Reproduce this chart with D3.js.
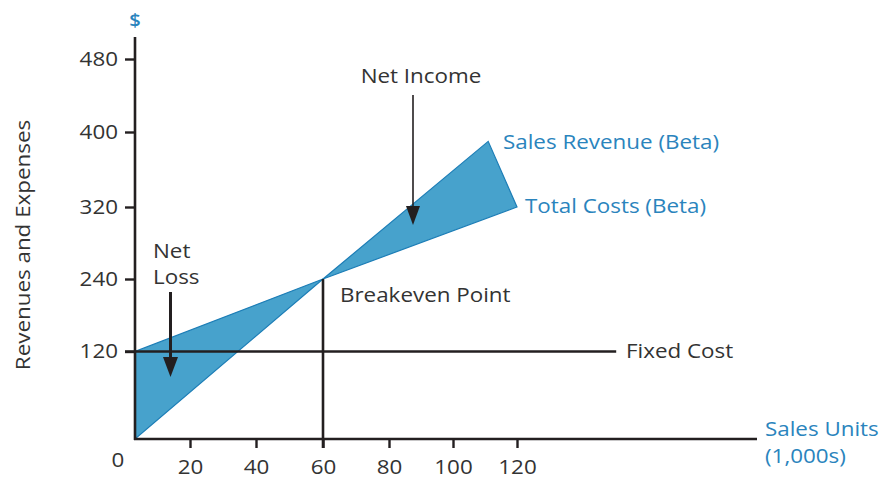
<!DOCTYPE html>
<html><head><meta charset="utf-8">
<script src="https://cdn.jsdelivr.net/npm/d3@7"></script>
<style>body{margin:0;background:#fff}svg{display:block;font-family:"Open Sans",sans-serif}</style>
</head><body><svg id="c" width="880" height="479"></svg>
<script>
const xTicks = [20, 40, 60, 80, 100, 120];
const yTicks = [120, 240, 320, 400, 480];
const xBreaks = [0, 20, 40, 60, 80, 100, 120];
const yBreaks = [0, 120, 240, 320, 400, 480];
const revenue = [{u: 0, v: 0}, {u: 60, v: 240}, {u: 111, v: 390}];
const costs = [{u: 0, v: 120}, {u: 60, v: 240}, {u: 120, v: 320}];
const fixedCost = 120;
const breakevenUnits = 60;
const breakevenValue = 240;

const BLUE = "#2a84bd", FILL = "#47a2cc", EDGE = "#1c7db6", INK = "#231f20", TXT = "#333";
const FS = 20, SX = 1.12;
const svg = d3.select("#c");
const x = d3.scaleLinear().domain(xBreaks).range([135, 190, 256, 323, 389, 453, 517]);
const y = d3.scaleLinear().domain(yBreaks).range([439, 351.5, 279, 207, 132, 59]);

// shaded areas
const loss = [revenue[0], costs[0], costs[1]];
const income = [revenue[1], revenue[2], costs[2]];
const poly = d3.line().x(d => x(d.u)).y(d => y(d.v));
[loss, income].forEach(p => {
  svg.append("path").attr("d", poly(p) + "Z").attr("fill", FILL)
    .attr("stroke", EDGE).attr("stroke-width", 1.2).attr("stroke-linejoin", "miter");
});

// fixed cost line
svg.append("line").attr("x1", x(0) - 10).attr("x2", x(151)).attr("y1", y(fixedCost)).attr("y2", y(fixedCost))
  .attr("stroke", INK).attr("stroke-width", 2.6);
// breakeven vertical
svg.append("line").attr("x1", x(breakevenUnits)).attr("x2", x(breakevenUnits))
  .attr("y1", y(breakevenValue)).attr("y2", y(0) + 9).attr("stroke", INK).attr("stroke-width", 2.6);

// axes
const ya = svg.append("g").attr("transform", `translate(${x(0)},0)`)
  .call(d3.axisLeft(y).tickValues(yTicks).tickSize(10).tickPadding(7).tickSizeOuter(0));
ya.select(".domain").remove();
const xa = svg.append("g").attr("transform", `translate(0,${y(0)})`)
  .call(d3.axisBottom(x).tickValues(xTicks).tickSize(9).tickPadding(12).tickSizeOuter(0));
xa.select(".domain").remove();
[ya, xa].forEach(g => {
  g.selectAll("line").attr("stroke", INK).attr("stroke-width", 2.4);
  g.selectAll("text").attr("fill", TXT).attr("font-size", FS).attr("font-family", "Open Sans")
    .each(function () {
      const t = d3.select(this);
      const tx = +t.attr("x") || 0;
      t.attr("x", 0).attr("transform", `translate(${tx},0) scale(${SX},1)`);
    });
});
svg.append("line").attr("x1", x(0)).attr("x2", x(0)).attr("y1", y(0) + 1).attr("y2", 37)
  .attr("stroke", INK).attr("stroke-width", 2.6);
svg.append("line").attr("x1", x(0) - 1).attr("x2", x(195)).attr("y1", y(0)).attr("y2", y(0))
  .attr("stroke", INK).attr("stroke-width", 2.6);

function txt(s, tx, ty, opts = {}) {
  return svg.append("text").attr("transform", `translate(${tx},${ty}) scale(${SX},1)`).text(s)
    .attr("fill", opts.fill || TXT).attr("font-size", opts.size || FS)
    .attr("font-weight", opts.weight || 400)
    .attr("text-anchor", opts.anchor || "start").attr("dominant-baseline", "central");
}
txt("0", 118, 459, {anchor: "middle"});
txt("$", x(0), 20, {fill: BLUE, anchor: "middle", size: 18, weight: 600});
svg.append("text").attr("transform", `translate(22,245) rotate(-90) scale(${SX},1)`).attr("text-anchor", "middle")
  .attr("dominant-baseline", "central").attr("font-size", FS).attr("fill", TXT).text("Revenues and Expenses");

txt("Sales Revenue (Beta)", 503, 141, {fill: BLUE});
txt("Total Costs (Beta)", 525, 205, {fill: BLUE});
txt("Sales Units", 765, 428, {fill: BLUE});
txt("(1,000s)", 765, 455, {fill: BLUE});
txt("Fixed Cost", 626, 350);
txt("Breakeven Point", 340, 294);
txt("Net", 153, 250);
txt("Loss", 153, 276);
txt("Net Income", 421, 75, {anchor: "middle"});

// arrows
function arrow(ax, y1, y2, w, hw, hl) {
  svg.append("line").attr("x1", ax).attr("x2", ax).attr("y1", y1).attr("y2", y2 - hl + 2)
    .attr("stroke", INK).attr("stroke-width", w);
  svg.append("path").attr("d", `M${ax - hw},${y2 - hl}L${ax + hw},${y2 - hl}L${ax},${y2}Z`).attr("fill", INK);
}
arrow(413, 95, 225, 1.6, 7, 19);
arrow(170.5, 292, 377, 3, 7.5, 20);
</script></body></html>
